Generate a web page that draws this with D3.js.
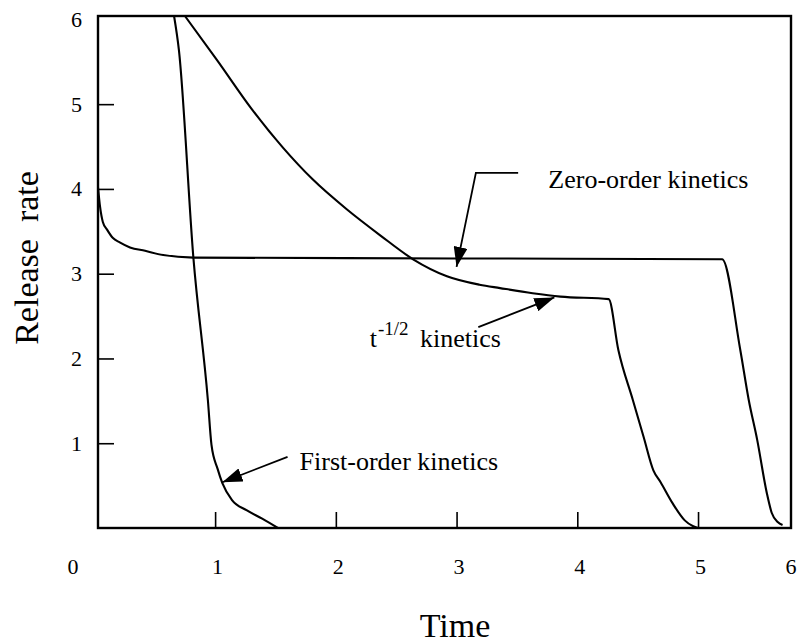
<!DOCTYPE html>
<html>
<head>
<meta charset="utf-8">
<script src="https://cdn.jsdelivr.net/npm/d3@7"></script>
<style>
  body { margin: 0; background: #fff; }
  svg text { font-family: "Liberation Serif", "Times New Roman", serif; fill: #000; }
</style>
</head>
<body>
<div class="canvas"></div>
<script>
// curves: [time, rate]
const zeroOrder = [
    [0.03, 4.02], [0.047, 3.79], [0.07, 3.61], [0.105, 3.52], [0.154, 3.42],
    [0.21, 3.37], [0.295, 3.31], [0.42, 3.27], [0.57, 3.22], [0.82, 3.19],
    [3.0, 3.18], [5.20, 3.17], [5.35, 2.10], [5.42, 1.51], [5.49, 1.04],
    [5.57, 0.41], [5.61, 0.18], [5.66, 0.07], [5.70, 0.035]
]
const firstOrder = [
    [0.66, 6.04], [0.70, 5.64], [0.82, 3.19], [0.94, 1.51], [0.97, 0.98],
    [1.02, 0.70], [1.06, 0.53], [1.14, 0.33], [1.26, 0.21], [1.39, 0.11], [1.52, 0.0]
]
const tHalf = [
    [0.75, 6.04], [1.016, 5.52], [1.31, 4.93], [1.56, 4.49], [1.81, 4.11],
    [2.09, 3.76], [2.37, 3.45], [2.64, 3.17], [2.92, 2.97], [3.19, 2.87],
    [3.36, 2.83], [3.63, 2.77], [3.86, 2.73], [4.26, 2.70], [4.34, 2.10],
    [4.46, 1.51], [4.55, 1.07], [4.63, 0.68], [4.69, 0.54], [4.79, 0.29],
    [4.89, 0.09], [4.96, 0.02], [5.00, 0.0]
]

const xTicks = [1, 2, 3, 4, 5]
const yTicks = [1, 2, 3, 4, 5, 6]

// labels with leader lines, in data units
const labels = [
    { text: 'Zero-order kinetics', at: [3.76, 4.01], path: [[3.51, 4.19], [3.16, 4.19], [3.0, 3.08]] },
    { text: 'kinetics', sup: '-1/2', pre: 't', at: [2.28, 2.14], path: [[3.18, 2.37], [3.81, 2.72]] },
    { text: 'First-order kinetics', at: [1.70, 0.68], path: [[1.60, 0.84], [1.06, 0.54]] }
]

const serif = '"Liberation Serif", "Times New Roman", serif'

const width = 802
const height = 644
const margin = { top: 16, right: 11, bottom: 116, left: 98 }
const graphWidth = width - margin.left - margin.right
const graphHeight = height - margin.top - margin.bottom

const svg = d3.select('.canvas')
    .append('svg')
    .attr('width', width)
    .attr('height', height)
    .attr('font-family', serif)

svg.append('defs').append('marker')
    .attr('id', 'head')
    .attr('viewBox', '0 0 20 14')
    .attr('refX', 20)
    .attr('refY', 7)
    .attr('markerWidth', 20)
    .attr('markerHeight', 14)
    .attr('markerUnits', 'userSpaceOnUse')
    .attr('orient', 'auto')
    .append('path')
    .attr('d', 'M0,0 L20,7 L0,14 Z')
    .attr('fill', '#000')

const graph = svg.append('g')
    .attr('transform', `translate(${margin.left}, ${margin.top})`)

// scales
const x = d3.scaleLinear()
    .domain([0.03, 5.77])
    .range([0, graphWidth])

const y = d3.scaleLinear()
    .domain([0, 6.04])
    .range([graphHeight, 0])

// axes, ticks pointing inward
const xAxis = d3.axisBottom(x)
    .tickValues(xTicks)
    .tickFormat(d3.format('d'))
    .tickSizeInner(-16)
    .tickSizeOuter(0)
    .tickPadding(30)

const yAxis = d3.axisLeft(y)
    .tickValues(yTicks)
    .tickFormat(d3.format('d'))
    .tickSizeInner(-16)
    .tickSizeOuter(0)
    .tickPadding(32)

const xAxisGroup = graph.append('g')
    .attr('transform', `translate(0, ${graphHeight})`)
    .call(xAxis)
const yAxisGroup = graph.append('g')
    .call(yAxis)

;[xAxisGroup, yAxisGroup].forEach(g => {
    g.attr('font-family', serif).attr('font-size', 22)
    g.select('.domain').remove()
    g.selectAll('line').attr('stroke', '#000').attr('stroke-width', 1.6)
    g.selectAll('text').attr('fill', '#000').attr('font-family', serif)
})
xAxisGroup.selectAll('text').attr('dx', 2)
yAxisGroup.selectAll('text').attr('text-anchor', 'end').attr('dx', 16)
yAxisGroup.selectAll('.tick').filter(d => d === 6).select('line').remove()

// corner labels
graph.append('text')
    .attr('x', -25)
    .attr('y', graphHeight + 46)
    .attr('text-anchor', 'middle')
    .attr('font-size', 22)
    .text('0')
graph.append('text')
    .attr('x', graphWidth)
    .attr('y', graphHeight + 46)
    .attr('text-anchor', 'middle')
    .attr('font-size', 22)
    .text('6')

// frame
graph.append('rect')
    .attr('width', graphWidth)
    .attr('height', graphHeight)
    .attr('fill', 'none')
    .attr('stroke', '#000')
    .attr('stroke-width', 2.4)

// curves
const line = d3.line()
    .x(d => x(d[0]))
    .y(d => y(d[1]))
    .curve(d3.curveMonotoneX)

graph.selectAll('path.curve')
    .data([zeroOrder, firstOrder, tHalf])
    .enter()
    .append('path')
    .attr('class', 'curve')
    .attr('d', line)
    .attr('fill', 'none')
    .attr('stroke', '#000')
    .attr('stroke-width', 2.1)

// annotations
labels.forEach(l => {
    graph.append('path')
        .attr('d', d3.line().x(p => x(p[0])).y(p => y(p[1]))(l.path))
        .attr('fill', 'none')
        .attr('stroke', '#000')
        .attr('stroke-width', 1.8)
        .attr('marker-end', 'url(#head)')

    const t = graph.append('text')
        .attr('x', x(l.at[0]))
        .attr('y', y(l.at[1]))
        .attr('font-size', 26)
    if (l.pre) {
        t.append('tspan').text(l.pre)
        t.append('tspan').attr('font-size', 19).attr('dy', -12).attr('dx', 1).text(l.sup)
        t.append('tspan').attr('dy', 12).attr('dx', 5).text('\u00a0' + l.text)
    } else {
        t.text(l.text)
    }
})

// axis titles
svg.append('text')
    .attr('x', 455)
    .attr('y', 637)
    .attr('text-anchor', 'middle')
    .attr('font-size', 34)
    .text('Time')

svg.append('text')
    .attr('transform', 'translate(38, 258) rotate(-90)')
    .attr('text-anchor', 'middle')
    .attr('font-size', 34)
    .text('Release\u00a0 rate')
</script>
</body>
</html>
